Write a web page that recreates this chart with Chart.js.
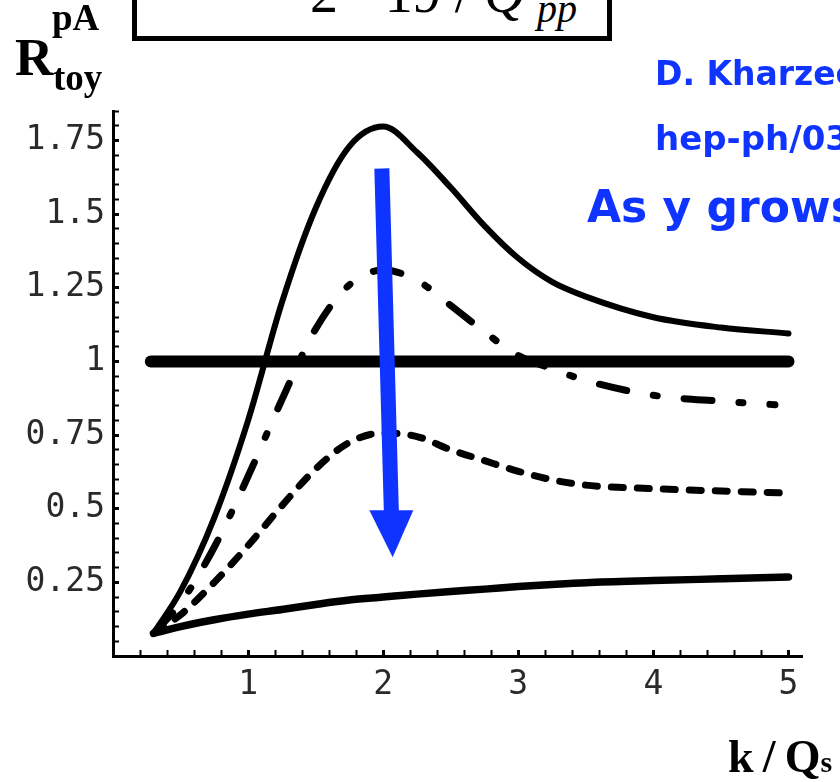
<!DOCTYPE html>
<html>
<head>
<meta charset="utf-8">
<title>R toy pA</title>
<script src="https://cdn.jsdelivr.net/npm/chart.js@4.4.1/dist/chart.umd.min.js"></script>
<style>
  html, body { margin: 0; padding: 0; width: 840px; height: 782px; overflow: hidden; background: #fff; }
  #wrap { position: relative; width: 840px; height: 782px; overflow: hidden; }
  #chart { position: absolute; left: 0; top: 0; }
  .lbl { position: absolute; line-height: 1; white-space: nowrap; }
  .serif { font-family: "Liberation Serif", "Times New Roman", serif; font-weight: bold; color: #000; }
  .blue { font-family: "DejaVu Sans", sans-serif; font-weight: bold; color: #1034ff; }
  #box { position: absolute; left: 132px; top: -30px; width: 470px; height: 61px; border: 5px solid #000; overflow: hidden; background: #fff; }
  .formula { font-family: "Liberation Serif", "Times New Roman", serif; font-style: italic; color: #000; }
</style>
</head>
<body>
<div id="wrap">
  <canvas id="chart" width="840" height="782"></canvas>

  <div id="box">
    <span class="lbl formula" style="left:173px; top:-10px; font-size:56px; font-style:normal;">2 · 19 / <i>Q</i></span>
    <span class="lbl formula" style="left:400px; top:14px; font-size:40px;">pp</span>
  </div>

  <span class="lbl serif" style="left:15px; top:31px; font-size:53px;">R</span>
  <span class="lbl serif" style="left:52px; top:-1px; font-size:37px;">pA</span>
  <span class="lbl serif" style="left:53px; top:59px; font-size:37px;">toy</span>

  <span class="lbl blue" style="left:655px; top:57px; font-size:33px;">D. Kharzeev, Yu. Kovchegov, K. Tuchin</span>
  <span class="lbl blue" style="left:655px; top:121px; font-size:34px;">hep-ph/0307037</span>
  <span class="lbl blue" style="left:587px; top:185px; font-size:44px;">As y grows</span>

  <span class="lbl serif" style="left:728px; top:734px; font-size:46px;">k&thinsp;/&thinsp;Q<span style="font-size:30px;">s</span></span>
</div>

<script>
  // k / Q_s sample points
  const kValues = [0.3, 0.5, 0.75, 1.0, 1.25, 1.5, 1.75, 2.0, 2.25, 2.5, 2.75, 3.0, 3.25, 3.5, 4.0, 4.5, 5.0];
  const kDashDot = [0.3, 0.5, 0.75, 1.0, 1.25, 1.5, 1.75, 2.0, 2.25, 2.5, 2.75, 3.0, 3.25, 3.5, 4.0, 4.5, 4.9];
  const kFlat = [0.28, 5.0];

  // R_toy^pA for growing rapidity y (top to bottom)
  const rSolidTop = [0.077, 0.22, 0.47, 0.80, 1.20, 1.52, 1.73, 1.797, 1.71, 1.59, 1.46, 1.35, 1.27, 1.22, 1.15, 1.115, 1.095];
  const rDashDot  = [0.077, 0.18, 0.37, 0.61, 0.87, 1.11, 1.26, 1.31, 1.275, 1.19, 1.10, 1.02, 0.975, 0.935, 0.885, 0.865, 0.853];
  const rDashed   = [0.077, 0.14, 0.25, 0.375, 0.51, 0.635, 0.725, 0.757, 0.745, 0.70, 0.663, 0.627, 0.598, 0.58, 0.568, 0.56, 0.553];
  const rSolidLow = [0.077, 0.10, 0.123, 0.142, 0.158, 0.175, 0.19, 0.20, 0.21, 0.219, 0.227, 0.236, 0.243, 0.249, 0.256, 0.262, 0.268];
  const rFlat = [1, 1];

  // blue arrow (k, R)
  const arrowTail = [1.99, 1.655];
  const arrowTip = [2.07, 0.335];
  const arrowHeadBase = 0.495;
  const blue = '#1034ff';

  function pts(ks, rs) {
    return ks.map((k, i) => ({ x: k, y: rs[i] }));
  }

  function isMultiple(v, step) {
    return Math.abs(v / step - Math.round(v / step)) < 1e-6;
  }

  const arrowPlugin = {
    id: 'arrow',
    afterDatasetsDraw(chart) {
      const ctx = chart.ctx;
      const xs = chart.scales.x, ys = chart.scales.y;
      const x0 = xs.getPixelForValue(arrowTail[0]), y0 = ys.getPixelForValue(arrowTail[1]);
      const x1 = xs.getPixelForValue(arrowTip[0]), y1 = ys.getPixelForValue(arrowTip[1]);
      const yb = ys.getPixelForValue(arrowHeadBase);
      const t = (yb - y0) / (y1 - y0);
      const xb = x0 + t * (x1 - x0);
      ctx.save();
      ctx.strokeStyle = blue;
      ctx.fillStyle = blue;
      ctx.lineWidth = 15;
      ctx.lineCap = 'butt';
      ctx.beginPath();
      ctx.moveTo(x0, y0);
      ctx.lineTo(xb, yb + 1);
      ctx.stroke();
      ctx.beginPath();
      ctx.moveTo(xb - 22, yb);
      ctx.lineTo(xb + 22, yb);
      ctx.lineTo(x1, y1);
      ctx.closePath();
      ctx.fill();
      ctx.restore();
    }
  };

  const tickFont = { family: 'DejaVu Sans Mono', size: 33 };

  new Chart(document.getElementById('chart').getContext('2d'), {
    type: 'line',
    data: {
      datasets: [
        { data: pts(kFlat, rFlat), borderColor: '#000', borderWidth: 12, borderCapStyle: 'round' },
        { data: pts(kValues, rSolidTop), borderColor: '#000', borderWidth: 6, borderCapStyle: 'round', cubicInterpolationMode: 'monotone' },
        { data: pts(kDashDot, rDashDot), borderColor: '#000', borderWidth: 7, borderCapStyle: 'round', borderDash: [28, 27, 4, 27], cubicInterpolationMode: 'monotone' },
        { data: pts(kValues, rDashed), borderColor: '#000', borderWidth: 7, borderCapStyle: 'round', borderDash: [12, 14], cubicInterpolationMode: 'monotone' },
        { data: pts(kValues, rSolidLow), borderColor: '#000', borderWidth: 7.5, borderCapStyle: 'round', cubicInterpolationMode: 'monotone' }
      ]
    },
    options: {
      responsive: false,
      animation: false,
      devicePixelRatio: 1,
      events: [],
      elements: { point: { radius: 0 }, line: { borderJoinStyle: 'round', fill: false } },
      layout: { padding: { left: 0, top: 111, right: 38, bottom: 0 } },
      plugins: { legend: { display: false }, tooltip: { enabled: false } },
      scales: {
        x: {
          type: 'linear',
          min: 0,
          max: 5.1,
          afterFit: s => { s.height = 126; },
          border: { color: '#000', width: 3 },
          grid: {
            drawOnChartArea: false,
            tickLength: -6,
            color: '#000',
            tickWidth: c => (c.tick && isMultiple(c.tick.value, 1) ? 3 : 2)
          },
          ticks: {
            stepSize: 0.2,
            includeBounds: false,
            autoSkip: false,
            maxRotation: 0,
            padding: 16,
            color: '#2a2a2a',
            font: tickFont,
            callback: v => (v > 0 && isMultiple(v, 1) ? String(Math.round(v)) : '')
          }
        },
        y: {
          min: 0,
          max: 1.85,
          afterFit: s => { s.width = 113; },
          border: { color: '#000', width: 3 },
          grid: {
            drawOnChartArea: false,
            tickLength: -6,
            color: '#000',
            tickWidth: c => (c.tick && isMultiple(c.tick.value, 0.25) ? 3 : 2)
          },
          ticks: {
            stepSize: 0.05,
            includeBounds: false,
            autoSkip: false,
            padding: 14,
            color: '#2a2a2a',
            font: tickFont,
            callback: v => (v > 0 && isMultiple(v, 0.25) ? String(Math.round(v * 100) / 100) : '')
          }
        }
      }
    },
    plugins: [arrowPlugin]
  });
</script>
</body>
</html>
